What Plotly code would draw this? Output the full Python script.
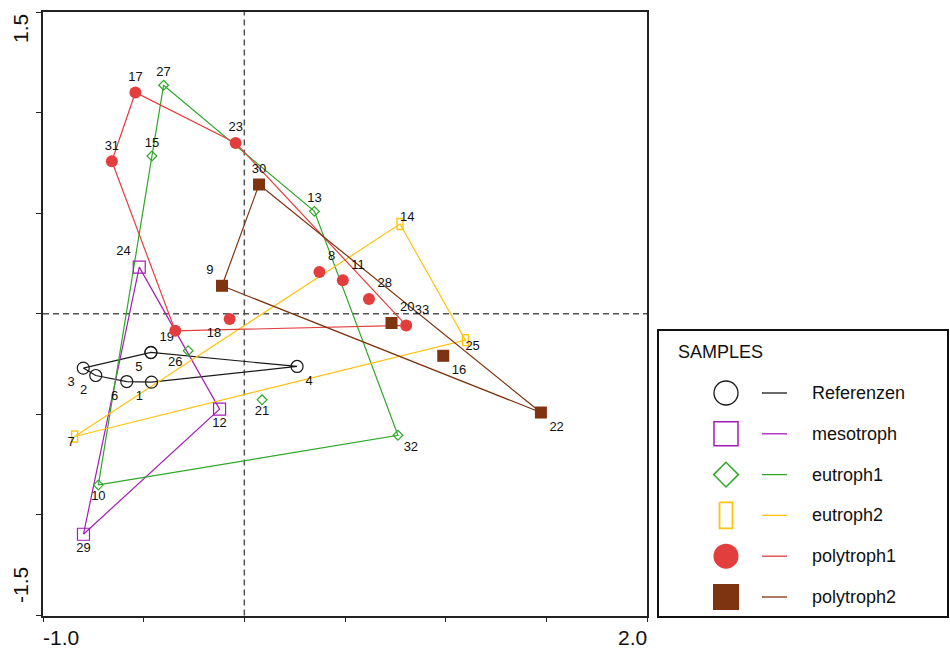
import plotly.graph_objects as go

# ---------------- data ----------------
groups = ["Referenzen", "mesotroph", "eutroph1", "eutroph2", "polytroph1", "polytroph2"]

ref_labels = ["1", "2", "3", "4", "5", "6", "19"]
ref_x = [-0.461, -0.738, -0.800, 0.262, -0.464, -0.584, -0.464]
ref_y = [-0.340, -0.307, -0.270, -0.262, -0.193, -0.337, -0.192]

meso_labels = ["12", "24", "29"]
meso_x = [-0.123, -0.522, -0.799]
meso_y = [-0.474, 0.232, -1.096]

eu1_labels = ["10", "13", "15", "21", "26", "27", "32"]
eu1_x = [-0.725, 0.348, -0.459, 0.088, -0.279, -0.401, 0.763]
eu1_y = [-0.851, 0.509, 0.784, -0.428, -0.184, 1.136, -0.604]

eu2_labels = ["7", "14", "25"]
eu2_x = [-0.843, 0.773, 1.098]
eu2_y = [-0.610, 0.446, -0.131]

poly1_labels = ["8", "11", "17", "18", "23", "28", "31", "33", ""]
poly1_x = [0.373, 0.489, -0.541, -0.073, -0.043, 0.619, -0.658, 0.804, -0.343]
poly1_y = [0.207, 0.166, 1.100, -0.026, 0.849, 0.073, 0.758, -0.058, -0.085]

poly2_labels = ["9", "16", "20", "22", "30"]
poly2_x = [-0.111, 0.988, 0.731, 1.473, 0.073]
poly2_y = [0.139, -0.209, -0.046, -0.491, 0.642]

x_tick_vals = [-1.0, -0.5, 0.0, 0.5, 1.0, 1.5, 2.0]
y_tick_vals = [-1.5, -1.0, -0.5, 0.0, 0.5, 1.0, 1.5]
x_end_labels = ["-1.0", "2.0"]
y_end_labels = ["-1.5", "1.5"]

# ---------------- styles ----------------
colors = {
    "Referenzen": "#1a1a1a",
    "mesotroph": "#a31cb6",
    "eutroph1": "#2fa82a",
    "eutroph2": "#ffc20e",
    "polytroph1": "#e23e3e",
    "polytroph2": "#7e3411",
}
text_pos = {
    "Referenzen": ["bottom left", "bottom left", "bottom left", "bottom right", "bottom left",
                   "bottom left", "top right"],
    "mesotroph": ["bottom center", "top left", "bottom center"],
    "eutroph1": ["bottom center", "top center", "top center", "bottom center", "bottom left",
                 "top center", "bottom right"],
    "eutroph2": ["bottom left", "top right", "bottom right"],
    "polytroph1": ["top right", "top right", "top center", "bottom left", "top center",
                   "top right", "top center", "top right", "top center"],
    "polytroph2": ["top left", "bottom right", "top right", "bottom right", "top center"],
}

data = {
    "Referenzen": (ref_x, ref_y, ref_labels),
    "mesotroph": (meso_x, meso_y, meso_labels),
    "eutroph1": (eu1_x, eu1_y, eu1_labels),
    "eutroph2": (eu2_x, eu2_y, eu2_labels),
    "polytroph1": (poly1_x, poly1_y, poly1_labels),
    "polytroph2": (poly2_x, poly2_y, poly2_labels),
}

FONT = "Liberation Sans, Arial, sans-serif"
W, H = 950, 650
# plot area in pixels
PL, PR, PT, PB = 43, 647, 12, 615.5
XR = [-1.0, 2.0]
YR = [-1.5, 1.5]
px_per_x = (PR - PL) / (XR[1] - XR[0])
px_per_y = (PB - PT) / (YR[1] - YR[0])


def convex_hull(xs, ys):
    pts = sorted(set(zip(xs, ys)))
    if len(pts) < 3:
        return pts

    def cross(o, a, b):
        return (a[0] - o[0]) * (b[1] - o[1]) - (a[1] - o[1]) * (b[0] - o[0])

    lower, upper = [], []
    for p in pts:
        while len(lower) >= 2 and cross(lower[-2], lower[-1], p) <= 0:
            lower.pop()
        lower.append(p)
    for p in reversed(pts):
        while len(upper) >= 2 and cross(upper[-2], upper[-1], p) <= 0:
            upper.pop()
        upper.append(p)
    return lower[:-1] + upper[:-1]


def rect_path(xs, ys, hw, hh):
    px, py = [], []
    for x, y in zip(xs, ys):
        px += [x - hw, x + hw, x + hw, x - hw, x - hw, None]
        py += [y - hh, y - hh, y + hh, y + hh, y - hh, None]
    return px, py


marker_main = {
    "Referenzen": dict(symbol="circle-open", size=12, line=dict(width=1.2)),
    "mesotroph": dict(symbol="square-open", size=12, line=dict(width=1.2)),
    "eutroph1": dict(symbol="diamond-open", size=7.5, line=dict(width=1.2)),
    "eutroph2": None,
    "polytroph1": dict(symbol="circle", size=12),
    "polytroph2": dict(symbol="square", size=12),
}
marker_leg = {
    "Referenzen": dict(symbol="circle-open", size=24, line=dict(width=1.3)),
    "mesotroph": dict(symbol="square-open", size=24, line=dict(width=1.5)),
    "eutroph1": dict(symbol="diamond-open", size=19, line=dict(width=1.5)),
    "eutroph2": None,
    "polytroph1": dict(symbol="circle", size=25),
    "polytroph2": dict(symbol="square", size=26),
}

fig = go.Figure()

# hull lines
for g in groups:
    xs, ys, _ = data[g]
    hull = convex_hull(xs, ys)
    hx = [p[0] for p in hull] + [hull[0][0]]
    hy = [p[1] for p in hull] + [hull[0][1]]
    fig.add_trace(go.Scatter(x=hx, y=hy, mode="lines", line=dict(color=colors[g], width=1.2),
                             hoverinfo="skip", showlegend=False))

# markers and labels
for g in groups:
    xs, ys, labs = data[g]
    if marker_main[g] is None:
        rx, ry = rect_path(xs, ys, 3 / px_per_x, 5.5 / px_per_y)
        fig.add_trace(go.Scatter(x=rx, y=ry, mode="lines", line=dict(color=colors[g], width=1.4),
                                 hoverinfo="skip", showlegend=False))
        fig.add_trace(go.Scatter(x=xs, y=ys, mode="text", text=labs, textposition=text_pos[g],
                                 textfont=dict(family=FONT, size=13, color="#111"),
                                 showlegend=False, name=g))
    else:
        m = dict(marker_main[g])
        m["color"] = colors[g]
        if "line" in m:
            m["line"] = dict(m["line"], color=colors[g])
        fig.add_trace(go.Scatter(x=xs, y=ys, mode="markers+text", marker=m, text=labs,
                                 textposition=text_pos[g],
                                 textfont=dict(family=FONT, size=13, color="#111"),
                                 showlegend=False, name=g))

# ---------------- custom legend (second axes in pixel units) ----------------
LX0, LX1, LY0, LY1 = 658, 948, 330, 617
row_y0, row_dy = 393, 40.8
mk_x, ln_x0, ln_x1, tx_x = 726, 762, 787, 810

for i, g in enumerate(groups):
    yy = row_y0 + i * row_dy
    if marker_leg[g] is None:
        rx, ry = rect_path([mk_x], [yy], 6.5, 13)
        fig.add_trace(go.Scatter(x=rx, y=ry, mode="lines", line=dict(color=colors[g], width=1.8),
                                 xaxis="x2", yaxis="y2", hoverinfo="skip", showlegend=False))
    else:
        m = dict(marker_leg[g])
        m["color"] = colors[g]
        if "line" in m:
            m["line"] = dict(m["line"], color=colors[g])
        fig.add_trace(go.Scatter(x=[mk_x], y=[yy], mode="markers", marker=m,
                                 xaxis="x2", yaxis="y2", hoverinfo="skip", showlegend=False))
    fig.add_trace(go.Scatter(x=[ln_x0, ln_x1], y=[yy, yy], mode="lines",
                             line=dict(color=colors[g], width=1.3),
                             xaxis="x2", yaxis="y2", hoverinfo="skip", showlegend=False))
    fig.add_annotation(x=tx_x, y=yy, xref="x2", yref="y2", text=g, showarrow=False,
                       xanchor="left", yanchor="middle",
                       font=dict(family=FONT, size=18, color="#111"))

fig.add_annotation(x=676, y=352, xref="x2", yref="y2", text="SAMPLES", showarrow=False,
                   xanchor="left", yanchor="middle", font=dict(family=FONT, size=18, color="#111"))

# ---------------- shapes ----------------
shapes = [
    dict(type="line", xref="x", yref="y domain", x0=0, x1=0, y0=0, y1=1,
         line=dict(color="#555", width=1.5, dash="6px,4px"), layer="below"),
    dict(type="line", xref="x domain", yref="y", x0=0, x1=1, y0=0, y1=0,
         line=dict(color="#555", width=1.5, dash="6px,4px"), layer="below"),
    dict(type="rect", xref="x2 domain", yref="y2 domain", x0=0, x1=1, y0=0, y1=1,
         line=dict(color="#111", width=2)),
]

# axis end labels (inward aligned as in reference)
fig.add_annotation(x=XR[0], y=0, xref="x", yref="y domain", yanchor="top", xanchor="left",
                   text=x_end_labels[0], showarrow=False, yshift=-8, xshift=-2,
                   font=dict(family=FONT, size=21, color="#111"))
fig.add_annotation(x=XR[1], y=0, xref="x", yref="y domain", yanchor="top", xanchor="right",
                   text=x_end_labels[1], showarrow=False, yshift=-8, xshift=2,
                   font=dict(family=FONT, size=21, color="#111"))
fig.add_annotation(x=0, y=YR[1], xref="x domain", yref="y", xanchor="right", yanchor="top",
                   text=y_end_labels[1], showarrow=False, textangle=-90, xshift=-9, yshift=0,
                   font=dict(family=FONT, size=21, color="#111"))
fig.add_annotation(x=0, y=YR[0], xref="x domain", yref="y", xanchor="right", yanchor="bottom",
                   text=y_end_labels[0], showarrow=False, textangle=-90, xshift=-9, yshift=10,
                   font=dict(family=FONT, size=21, color="#111"))

axis_common = dict(showgrid=False, zeroline=False, showline=True, linecolor="#222", linewidth=1.5,
                   mirror=True, ticks="outside", ticklen=5, tickwidth=1.3, tickcolor="#222",
                   showticklabels=False)

fig.update_layout(
    width=W, height=H,
    margin=dict(l=0, r=0, t=0, b=0),
    paper_bgcolor="white", plot_bgcolor="white",
    showlegend=False,
    xaxis=dict(range=XR, domain=[PL / W, PR / W], tickvals=x_tick_vals, **axis_common),
    yaxis=dict(range=YR, domain=[1 - PB / H, 1 - PT / H], tickvals=y_tick_vals, **axis_common),
    xaxis2=dict(range=[LX0, LX1], domain=[LX0 / W, LX1 / W], visible=False, anchor="y2"),
    yaxis2=dict(range=[LY1, LY0], domain=[1 - LY1 / H, 1 - LY0 / H], visible=False, anchor="x2"),
    shapes=shapes,
    font=dict(family=FONT),
)

fig.write_html("out.html", config={"displayModeBar": False},
               post_script="document.body.style.margin='0px';document.body.style.overflow='hidden';")
